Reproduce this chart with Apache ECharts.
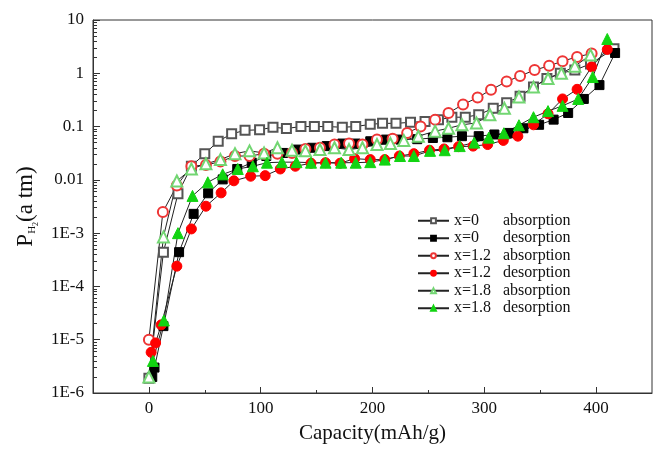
<!DOCTYPE html>
<html lang="en">
<head>
    <meta charset="UTF-8">
    <title>PCT</title>
</head>
<body style="margin:0;background:#fff;">
<div id="main" style="width:660px;height:449px;"></div>
<script src="https://cdn.jsdelivr.net/npm/echarts@6/dist/echarts.min.js"></script>
<script type="text/javascript">
    // legend labels
    var compositions = ['x=0', 'x=0', 'x=1.2', 'x=1.2', 'x=1.8', 'x=1.8'];
    var processes = ['absorption', 'desorption', 'absorption', 'desorption', 'absorption', 'desorption'];

    // x=0
    var capAbs0 = [0, 13, 26, 38, 50, 62, 74, 86, 99, 111, 123, 136, 148, 160, 173, 185, 198, 209, 221, 234, 247, 259, 271, 283, 295, 308, 320, 332, 344, 356, 368, 381, 395, 416];
    var pAbs0 = [1.9e-6, 4.4e-4, 0.0055, 0.018, 0.031, 0.053, 0.073, 0.085, 0.087, 0.097, 0.092, 0.1, 0.1, 0.1, 0.097, 0.1, 0.11, 0.115, 0.115, 0.12, 0.125, 0.134, 0.15, 0.15, 0.167, 0.22, 0.28, 0.37, 0.55, 0.8, 1.0, 1.15, 1.5, 2.9];
    var capDes0 = [3, 5, 13, 27, 40, 53, 66, 79, 92, 105, 120, 133, 146, 159, 173, 185, 198, 212, 225, 240, 254, 267, 280, 295, 309, 322, 335, 349, 362, 375, 389, 403, 417];
    var pDes0 = [2e-6, 3e-6, 1.8e-5, 4.4e-4, 0.0023, 0.0056, 0.0102, 0.016, 0.021, 0.028, 0.032, 0.037, 0.04, 0.043, 0.048, 0.048, 0.053, 0.057, 0.057, 0.058, 0.061, 0.063, 0.066, 0.066, 0.071, 0.076, 0.093, 0.108, 0.135, 0.18, 0.33, 0.6, 2.4];

    // x=1.2
    var capAbs12 = [0, 12.5, 25, 38, 51, 64, 77, 90, 103, 115, 128, 140, 153, 166, 179, 191, 204, 218, 231, 243, 256, 268, 281, 294, 306, 320, 332, 345, 358, 370, 383, 396];
    var pAbs12 = [1e-5, 0.0025, 0.0078, 0.018, 0.019, 0.022, 0.028, 0.028, 0.031, 0.031, 0.032, 0.038, 0.04, 0.046, 0.048, 0.046, 0.057, 0.059, 0.076, 0.1, 0.135, 0.18, 0.26, 0.35, 0.49, 0.7, 0.89, 1.15, 1.38, 1.69, 2.03, 2.35];
    var capDes12 = [2, 6, 11, 25, 38, 51, 64.6, 76, 91, 104, 117.5, 131, 145, 158, 171, 184, 198, 211, 224, 237, 251, 264, 277, 290, 303, 317, 330, 344, 357, 370, 383, 396, 410];
    var pDes12 = [5.8e-6, 8.7e-6, 1.9e-5, 2.4e-4, 1.2e-3, 3.2e-3, 0.0057, 0.0096, 0.0117, 0.012, 0.016, 0.018, 0.0205, 0.021, 0.0205, 0.025, 0.024, 0.024, 0.028, 0.031, 0.036, 0.038, 0.042, 0.043, 0.046, 0.055, 0.066, 0.108, 0.174, 0.33, 0.5, 1.32, 2.8];

    // x=1.8
    var capAbs18 = [0, 13, 25, 38, 51, 64, 77, 90, 103, 115, 128, 140, 153, 166, 179, 191, 204, 216, 228, 241, 256, 268, 280, 293, 305, 318, 331, 344, 357, 369, 381, 395];
    var pAbs18 = [2e-6, 8.5e-4, 0.0095, 0.016, 0.02, 0.024, 0.031, 0.035, 0.032, 0.04, 0.036, 0.035, 0.037, 0.04, 0.037, 0.04, 0.046, 0.048, 0.055, 0.066, 0.082, 0.093, 0.108, 0.117, 0.167, 0.22, 0.36, 0.55, 0.8, 1.0, 1.36, 2.2];
    var capDes18 = [3.6, 13.4, 26, 39, 52.7, 66, 79.5, 93, 105.6, 119, 132, 145, 158, 172, 185, 198, 211, 224.6, 237, 251.5, 264.6, 278, 291, 304, 317.5, 331, 344, 357, 370, 384, 397, 410];
    var pDes18 = [4e-6, 2.3e-5, 1e-3, 0.005, 0.009, 0.0127, 0.016, 0.018, 0.021, 0.0215, 0.0215, 0.021, 0.021, 0.021, 0.021, 0.0215, 0.024, 0.028, 0.028, 0.035, 0.036, 0.043, 0.05, 0.062, 0.075, 0.106, 0.15, 0.195, 0.245, 0.33, 0.85, 4.4];

    // axis ticks
    var xTickValues = [0, 100, 200, 300, 400];
    var xMinorTicks = [50, 150, 250, 350];
    var yTickValues = [1e-6, 1e-5, 1e-4, 1e-3, 0.01, 0.1, 1, 10];
    var yTickLabels = ['1E-6', '1E-5', '1E-4', '1E-3', '0.01', '0.1', '1', '10'];

    var capList = [capAbs0, capDes0, capAbs12, capDes12, capAbs18, capDes18];
    var pList = [pAbs0, pDes0, pAbs12, pDes12, pAbs18, pDes18];
    var symbols = ['emptyRect', 'rect', 'emptyCircle', 'circle', 'emptyTriangle', 'triangle'];
    var symbolSizes = [9, 9, 10, 10, 11, 11];
    var colors = ['#555555', '#000000', '#ee3535', '#ff0000', '#72d672', '#12d412'];

    // minor ticks of the log axis: 2..9 in every decade
    var yMinorTicks = [];
    for (var e = -6; e < 1; e++) {
        for (var m = 2; m <= 9; m++) {
            yMinorTicks.push(m * Math.pow(10, e));
        }
    }

    var myChart = echarts.init(document.getElementById('main'));

    var series = [];
    for (var i = 0; i < capList.length; i++) {
        var pts = [];
        for (var j = 0; j < capList[i].length; j++) {
            pts.push([capList[i][j], pList[i][j]]);
        }
        series.push({
            name: compositions[i] + ' ' + processes[i],
            type: 'line',
            xAxisIndex: 0,
            yAxisIndex: 0,
            data: pts,
            symbol: symbols[i],
            symbolSize: symbolSizes[i],
            showAllSymbol: true,
            lineStyle: {color: '#222', width: 1},
            itemStyle: {color: colors[i], borderColor: colors[i], borderWidth: 1},
            emphasis: {disabled: true}
        });
    }

    var serif = 'Liberation Serif';

    var option = {
        animation: false,
        backgroundColor: '#fff',
        grid: {
            left: 93, top: 20, right: 8, bottom: 54,
            show: true, borderColor: '#333', borderWidth: 1, backgroundColor: 'transparent'
        },
        legend: {
            orient: 'vertical',
            left: 412,
            top: 207,
            itemWidth: 31,
            itemHeight: 6,
            itemGap: 0,
            selectedMode: false,
            data: series.map(function (s) { return s.name; }),
            formatter: function (name) {
                var parts = name.split(' ');
                return '{a|' + parts[0] + '}{b|' + parts[1] + '}';
            },
            textStyle: {
                fontFamily: serif,
                fontSize: 16,
                color: '#111',
                lineHeight: 17.5,
                rich: {
                    a: {fontFamily: serif, fontSize: 16, color: '#111', width: 49, lineHeight: 17.5},
                    b: {fontFamily: serif, fontSize: 16, color: '#111', lineHeight: 17.5}
                }
            }
        },
        xAxis: [{
            type: 'value',
            min: -50,
            max: 450,
            name: 'Capacity(mAh/g)',
            nameLocation: 'middle',
            nameGap: 30,
            nameTextStyle: {fontFamily: serif, fontSize: 21, color: '#111'},
            axisLine: {show: true, onZero: false, lineStyle: {color: '#333', width: 1}},
            axisTick: {show: true, inside: true, length: 6, customValues: xTickValues, lineStyle: {color: '#333'}},
            axisLabel: {customValues: xTickValues, fontFamily: serif, fontSize: 17, color: '#111', margin: 7},
            splitLine: {show: false}
        }, {
            type: 'value',
            min: -50,
            max: 450,
            position: 'bottom',
            axisLine: {show: false, onZero: false},
            axisTick: {show: true, inside: true, length: 3, customValues: xMinorTicks, lineStyle: {color: '#333'}},
            axisLabel: {show: false, customValues: xMinorTicks},
            splitLine: {show: false}
        }],
        yAxis: [{
            type: 'log',
            logBase: 10,
            min: 1e-6,
            max: 10,
            name: '{p|P}{h|H}{t|2}{q|(a tm)}',
            nameLocation: 'middle',
            nameGap: 53,
            nameRotate: 90,
            nameTextStyle: {
                fontFamily: serif,
                color: '#111',
                rich: {
                    p: {fontFamily: serif, fontSize: 23, color: '#111', lineHeight: 26, verticalAlign: 'top'},
                    h: {fontFamily: serif, fontSize: 11, color: '#111', lineHeight: 14, verticalAlign: 'bottom', padding: [0, 0, 2, 0]},
                    t: {fontFamily: serif, fontSize: 8, color: '#111', lineHeight: 8, verticalAlign: 'bottom'},
                    q: {fontFamily: serif, fontSize: 23, color: '#111', lineHeight: 26, verticalAlign: 'top'}
                }
            },
            axisLine: {show: true, onZero: false, lineStyle: {color: '#333', width: 1}},
            axisTick: {show: true, inside: true, length: 7, customValues: yTickValues, lineStyle: {color: '#333'}},
            axisLabel: {
                customValues: yTickValues,
                fontFamily: serif,
                fontSize: 17,
                color: '#111',
                margin: 9,
                formatter: function (v) {
                    var idx = Math.round(Math.log10(v)) + 6;
                    return yTickLabels[idx];
                }
            },
            splitLine: {show: false}
        }, {
            type: 'log',
            logBase: 10,
            min: 1e-6,
            max: 10,
            position: 'left',
            axisLine: {show: false, onZero: false},
            axisTick: {show: true, inside: true, length: 4, customValues: yMinorTicks, lineStyle: {color: '#333'}},
            axisLabel: {show: false, customValues: yMinorTicks},
            splitLine: {show: false}
        }],
        series: series
    };

    myChart.setOption(option);
</script>
</body>
</html>
